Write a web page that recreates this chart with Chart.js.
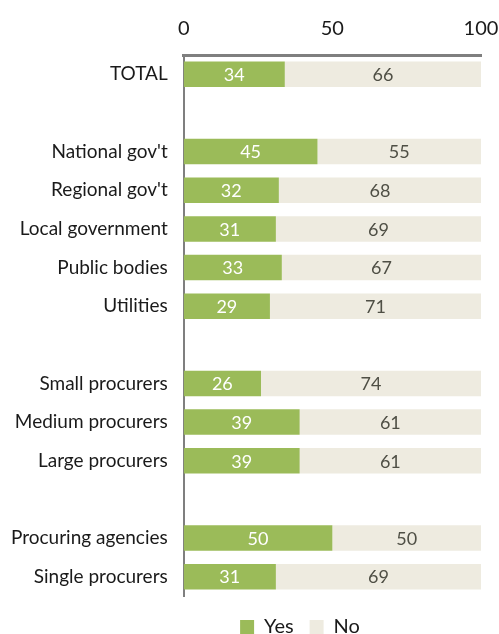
<!DOCTYPE html>
<html>
<head>
<meta charset="utf-8">
<script src="https://cdn.jsdelivr.net/npm/chart.js@4"></script>
<style>
  html, body { margin: 0; padding: 0; background: #fff; }
  #wrap { width: 499px; height: 634px; position: relative; }
</style>
</head>
<body>
<div id="wrap"><canvas id="chart"></canvas></div>
<script>
const categories = ['TOTAL', '', "National gov't", "Regional gov't", 'Local government', 'Public bodies', 'Utilities', '',
  'Small procurers', 'Medium procurers', 'Large procurers', '', 'Procuring agencies', 'Single procurers'];
const yesValues = [34, null, 45, 32, 31, 33, 29, null, 26, 39, 39, null, 50, 31];
const noValues = [66, null, 55, 68, 69, 67, 71, null, 74, 61, 61, null, 50, 69];
const xTicks = [0, 50, 100];

const FONT = 'Lato, "DejaVu Sans", sans-serif';

// draw the numbers inside each segment
const barLabels = {
  id: 'barLabels',
  afterDatasetsDraw(chart) {
    const ctx = chart.ctx;
    ctx.save();
    ctx.font = '18px ' + FONT;
    ctx.textAlign = 'center';
    ctx.textBaseline = 'middle';
    chart.data.datasets.forEach((ds, di) => {
      chart.getDatasetMeta(di).data.forEach((bar, i) => {
        const v = ds.data[i];
        if (v == null) return;
        const { x, base, y } = bar.getProps(['x', 'base', 'y'], true);
        ctx.fillStyle = di === 0 ? '#ffffff' : '#4f4f45';
        ctx.fillText(v, (x + base) / 2, y + 1);
      });
    });
    ctx.restore();
  }
};

// nudge legend to sit under the plot like the original
const legendShift = {
  id: 'legendShift',
  afterLayout(chart) {
    const lg = chart.legend;
    lg.left += 124;
    lg.top += 5;
    lg.bottom += 5;
  }
};

new Chart(document.getElementById('chart'), {
  type: 'bar',
  data: {
    labels: categories,
    datasets: [
      { label: 'Yes', data: yesValues, backgroundColor: '#9bbb59', barPercentage: 0.66, categoryPercentage: 1 },
      { label: 'No', data: noValues, backgroundColor: '#eeebe0', barPercentage: 0.66, categoryPercentage: 1 }
    ]
  },
  options: {
    indexAxis: 'y',
    responsive: true, maintainAspectRatio: false,
    animation: false,
    layout: { padding: { top: 3, right: 18, left: -5, bottom: -8 } },
    plugins: {
      legend: {
        position: 'bottom',
        labels: { boxWidth: 14, boxHeight: 14, padding: 16, color: '#1a1a1a', font: { family: FONT, size: 20 } }
      },
      tooltip: { enabled: false }
    },
    scales: {
      x: {
        position: 'top', stacked: true, min: 0, max: 100,
        afterBuildTicks: axis => { axis.ticks = xTicks.map(v => ({ value: v })); },
        afterFit: axis => { axis.paddingLeft = 0; axis.paddingRight = 0; },
        grid: { display: false, drawTicks: false },
        border: { color: '#7f7f7f', width: 3 },
        ticks: { padding: 14, color: '#1a1a1a', font: { family: FONT, size: 20 } }
      },
      y: {
        stacked: true,
        grid: { display: false, drawTicks: false },
        border: { color: '#7f7f7f', width: 2 },
        ticks: { padding: 16, color: '#1a1a1a', autoSkip: false, font: { family: FONT, size: 19 } }
      }
    }
  },
  plugins: [barLabels, legendShift]
});
</script>
</body>
</html>
